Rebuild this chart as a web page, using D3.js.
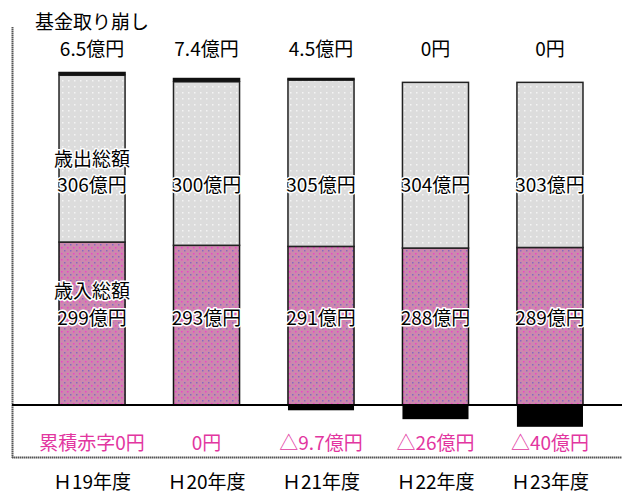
<!DOCTYPE html>
<html>
<head>
<meta charset="utf-8">
<script src="https://cdn.jsdelivr.net/npm/d3@7"></script>
<style>
  body { margin: 0; background: #fff; }
  svg { display: block; }
  text { font-family: "Noto Sans CJK JP", "Noto Sans", sans-serif; }
</style>
</head>
<body>
<svg id="chart" width="622" height="493"></svg>
<script>
// 年度ごとの値 (億円)
var years = ["Ｈ19年度", "Ｈ20年度", "Ｈ21年度", "Ｈ22年度", "Ｈ23年度"];
var revenue = [299, 293, 291, 288, 289];        // 歳入総額
var expenditure = [306, 300, 305, 304, 303];    // 歳出総額
var fund = [6.5, 7.4, 4.5, 0, 0];               // 基金取り崩し
var deficit = [0, 0, 9.7, 26, 40];              // 累積赤字

var svg = d3.select("#chart");
var width = +svg.attr("width");

var x = d3.scaleBand()
    .domain(years)
    .range([34.8, 607.2])
    .paddingInner(0.423)
    .paddingOuter(0.2115);

var y = d3.scaleLinear()
    .domain([0, 600])
    .range([405, 78]);

// patterns
var defs = svg.append("defs");
var grayPat = defs.append("pattern")
    .attr("id", "grayDots").attr("patternUnits", "userSpaceOnUse")
    .attr("width", 6).attr("height", 6);
grayPat.append("rect").attr("width", 6).attr("height", 6).attr("fill", "#dcdcdc");
grayPat.append("rect").attr("x", 2).attr("y", 2).attr("width", 1.5).attr("height", 1.5).attr("fill", "#f4f4f4");

var pinkPat = defs.append("pattern")
    .attr("id", "pinkDots").attr("patternUnits", "userSpaceOnUse")
    .attr("width", 6).attr("height", 6);
pinkPat.append("rect").attr("width", 6).attr("height", 6).attr("fill", "#cc88ae");
pinkPat.append("rect").attr("x", 1).attr("y", 1).attr("width", 1.5).attr("height", 1.5).attr("fill", "#ec44c8");
pinkPat.append("rect").attr("x", 4).attr("y", 4).attr("width", 1.5).attr("height", 1.5).attr("fill", "#8868c0");

// frame
svg.append("line")
    .attr("x1", 12.5).attr("x2", 12.5).attr("y1", 27).attr("y2", 458)
    .attr("stroke", "#555").attr("stroke-width", 2).attr("stroke-dasharray", "1.5,0.5");
svg.append("line")
    .attr("x1", 12).attr("x2", width).attr("y1", 457.5).attr("y2", 457.5)
    .attr("stroke", "#555").attr("stroke-width", 2).attr("stroke-dasharray", "1.5,0.5");

var bars = svg.append("g");

// 歳入 (pink)
bars.selectAll(".rev")
    .data(years)
    .join("rect")
    .attr("class", "rev")
    .attr("x", function (d) { return x(d); })
    .attr("width", x.bandwidth())
    .attr("y", function (d, i) { return y(revenue[i]); })
    .attr("height", function (d, i) { return y(0) - y(revenue[i]); })
    .attr("fill", "url(#pinkDots)")
    .attr("stroke", "#111").attr("stroke-width", 1.5);

// 歳出 (gray)
bars.selectAll(".exp")
    .data(years)
    .join("rect")
    .attr("class", "exp")
    .attr("x", function (d) { return x(d); })
    .attr("width", x.bandwidth())
    .attr("y", function (d, i) { return y(revenue[i] + expenditure[i]); })
    .attr("height", function (d, i) { return y(revenue[i]) - y(revenue[i] + expenditure[i]); })
    .attr("fill", "url(#grayDots)")
    .attr("stroke", "#222").attr("stroke-width", 1.5);

// 基金取り崩し (black top)
bars.selectAll(".fund")
    .data(years)
    .join("rect")
    .attr("class", "fund")
    .attr("x", function (d) { return x(d) - 0.75; })
    .attr("width", x.bandwidth() + 1.5)
    .attr("y", function (d, i) { return y(revenue[i] + expenditure[i] + fund[i]); })
    .attr("height", function (d, i) { return y(revenue[i] + expenditure[i]) - y(revenue[i] + expenditure[i] + fund[i]); })
    .attr("fill", "#111");

// 累積赤字 (black below baseline)
bars.selectAll(".def")
    .data(years)
    .join("rect")
    .attr("class", "def")
    .attr("x", function (d) { return x(d); })
    .attr("width", x.bandwidth())
    .attr("y", y(0))
    .attr("height", function (d, i) { return y(-deficit[i]) - y(0); })
    .attr("fill", "#000");

// baseline
svg.append("line")
    .attr("x1", 12).attr("x2", width).attr("y1", y(0)).attr("y2", y(0))
    .attr("stroke", "#000").attr("stroke-width", 2);

var cx = function (d) { return x(d) + x.bandwidth() / 2; };

function fmt(v) { return v === 0 ? "0円" : v + "億円"; }

// top title
svg.append("text")
    .attr("x", 35).attr("y", 29)
    .attr("font-size", 19)
    .text("基金取り崩し");

// fund labels
svg.selectAll(".fundLabel")
    .data(years)
    .join("text")
    .attr("class", "fundLabel")
    .attr("x", cx).attr("y", 56)
    .attr("text-anchor", "middle")
    .attr("font-size", 19)
    .text(function (d, i) { return fmt(fund[i]); });

var halo = function (sel) {
    sel.attr("stroke", "#fff").attr("stroke-width", 3)
        .attr("paint-order", "stroke").attr("stroke-linejoin", "round");
};

// in-bar labels
svg.append("text")
    .attr("x", cx(years[0])).attr("y", 166)
    .attr("text-anchor", "middle").attr("font-size", 19)
    .call(halo)
    .text("歳出総額");
svg.selectAll(".expLabel")
    .data(years)
    .join("text")
    .attr("class", "expLabel")
    .attr("x", cx).attr("y", 192)
    .attr("text-anchor", "middle").attr("font-size", 19)
    .call(halo)
    .text(function (d, i) { return fmt(expenditure[i]); });

svg.append("text")
    .attr("x", cx(years[0])).attr("y", 298)
    .attr("text-anchor", "middle").attr("font-size", 19)
    .call(halo)
    .text("歳入総額");
svg.selectAll(".revLabel")
    .data(years)
    .join("text")
    .attr("class", "revLabel")
    .attr("x", cx).attr("y", 325)
    .attr("text-anchor", "middle").attr("font-size", 19)
    .call(halo)
    .text(function (d, i) { return fmt(revenue[i]); });

// deficit labels
svg.selectAll(".defLabel")
    .data(years)
    .join("text")
    .attr("class", "defLabel")
    .attr("x", cx).attr("y", 450)
    .attr("text-anchor", "middle").attr("font-size", 19)
    .attr("fill", "#e2369f")
    .text(function (d, i) {
        var s = deficit[i] === 0 ? "0円" : "△" + deficit[i] + "億円";
        return i === 0 ? "累積赤字" + s : s;
    });

// year labels
svg.selectAll(".yearLabel")
    .data(years)
    .join("text")
    .attr("class", "yearLabel")
    .attr("x", cx).attr("y", 489)
    .attr("text-anchor", "middle").attr("font-size", 19)
    .text(function (d) { return d; });
</script>
</body>
</html>
